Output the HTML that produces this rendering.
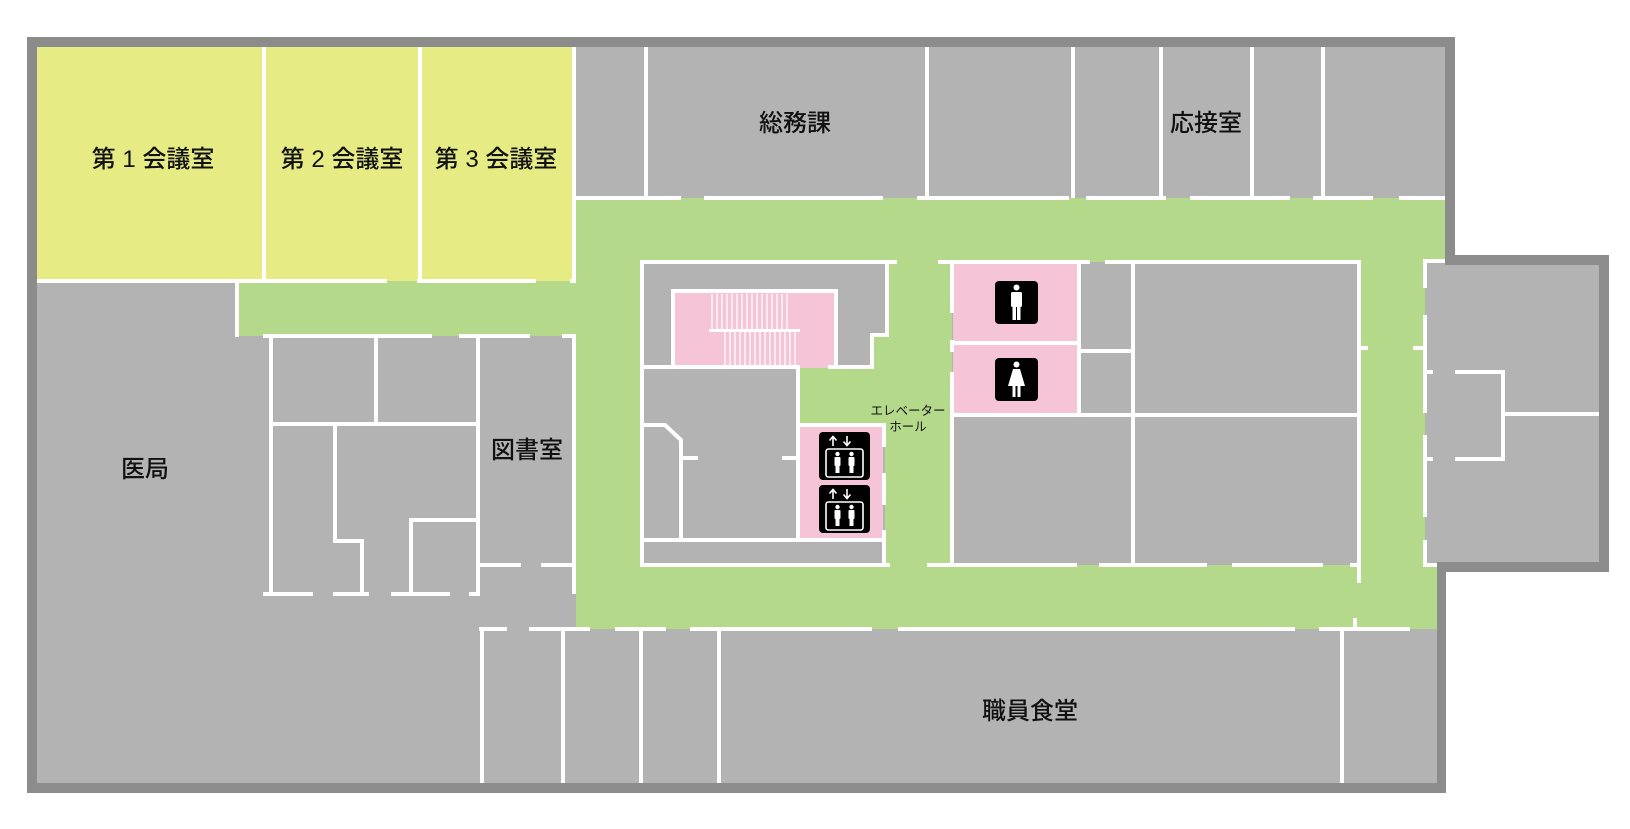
<!DOCTYPE html>
<html><head><meta charset="utf-8"><style>
html,body{margin:0;padding:0;background:#fff;}
svg{display:block;}
text{font-family:"Liberation Sans","Noto Sans CJK JP",sans-serif;fill:#111;}
</style></head><body>
<svg width="1630" height="829" viewBox="0 0 1630 829" xmlns="http://www.w3.org/2000/svg">
<!-- building outline -->
<polygon points="27,37 1455,37 1455,255 1609,255 1609,572 1446,572 1446,793 27,793" fill="#8c8c8c"/>
<polygon points="37,47 1445,47 1445,265 1599,265 1599,562 1437,562 1437,783 37,783" fill="#b3b3b3"/>
<!-- yellow rooms -->
<rect x="37" y="47" width="538" height="234" fill="#e6eb84"/>
<!-- green corridors -->
<g fill="#b5d98b">
<rect x="238" y="281" width="340" height="55"/>
<rect x="576" y="198" width="869" height="64"/>
<rect x="576" y="198" width="66" height="431"/>
<rect x="576" y="565" width="861" height="64"/>
<rect x="1359" y="198" width="66" height="431"/>
<rect x="1425" y="565" width="12" height="64"/>
<rect x="885" y="262" width="67" height="304"/>
<rect x="797" y="367" width="90" height="60"/>
<rect x="872" y="335" width="15" height="35"/>
</g>
<!-- pink -->
<g fill="#f5c4d6">
<rect x="675" y="293" width="159" height="73"/>
<rect x="798" y="362" width="32" height="6"/>
<rect x="800" y="425" width="83" height="114"/>
<rect x="953" y="263" width="124" height="79"/>
<rect x="953" y="345" width="124" height="69"/>
</g>
<!-- walls -->
<g stroke="#fff" stroke-width="4" fill="none" stroke-linecap="butt">
<line x1="264" y1="47" x2="264" y2="281"/>
<line x1="420" y1="47" x2="420" y2="281"/>
<line x1="574" y1="47" x2="574" y2="283"/>
<line x1="37" y1="281" x2="387" y2="281"/>
<line x1="417" y1="281" x2="536" y2="281"/>
<line x1="570" y1="281" x2="576" y2="281"/>
<line x1="237" y1="281" x2="237" y2="337"/>
<line x1="646" y1="47" x2="646" y2="198"/>
<line x1="927" y1="47" x2="927" y2="198"/>
<line x1="1073" y1="47" x2="1073" y2="198"/>
<line x1="1161" y1="47" x2="1161" y2="198"/>
<line x1="1252" y1="47" x2="1252" y2="198"/>
<line x1="1323" y1="47" x2="1323" y2="198"/>
<line x1="576" y1="198" x2="681" y2="198"/>
<line x1="704" y1="198" x2="883" y2="198"/>
<line x1="917" y1="198" x2="1069" y2="198"/>
<line x1="1086" y1="198" x2="1166" y2="198"/>
<line x1="1190" y1="198" x2="1290" y2="198"/>
<line x1="1313" y1="198" x2="1373" y2="198"/>
<line x1="1399" y1="198" x2="1445" y2="198"/>
<line x1="263" y1="336" x2="432" y2="336"/>
<line x1="459" y1="336" x2="530" y2="336"/>
<line x1="562" y1="336" x2="576" y2="336"/>
<line x1="271" y1="336" x2="271" y2="594"/>
<line x1="376" y1="336" x2="376" y2="425"/>
<line x1="271" y1="424" x2="478" y2="424"/>
<line x1="478" y1="336" x2="478" y2="594"/>
<line x1="335" y1="424" x2="335" y2="542"/>
<line x1="333" y1="541" x2="364" y2="541"/>
<line x1="362" y1="541" x2="362" y2="594"/>
<line x1="411" y1="519" x2="411" y2="594"/>
<line x1="409" y1="520" x2="478" y2="520"/>
<line x1="263" y1="594" x2="313" y2="594"/>
<line x1="333" y1="594" x2="369" y2="594"/>
<line x1="391" y1="594" x2="450" y2="594"/>
<line x1="469" y1="594" x2="480" y2="594"/>
<line x1="478" y1="565" x2="521" y2="565"/>
<line x1="541" y1="565" x2="574" y2="565"/>
<line x1="574" y1="336" x2="574" y2="594"/>
<polyline points="642,566 642,262 897,262"/>
<polyline points="887,262 887,335 872,335 872,368"/>
<polyline points="673,366 673,291 836,291 836,366"/>
<line x1="640" y1="367" x2="800" y2="367"/>
<line x1="828" y1="367" x2="874" y2="367"/>
<line x1="798" y1="367" x2="798" y2="540"/>
<line x1="796" y1="425" x2="886" y2="425"/>
<line x1="884" y1="425" x2="884" y2="447"/>
<line x1="884" y1="473" x2="884" y2="505"/>
<line x1="884" y1="530" x2="884" y2="566"/>
<polyline points="642,425 665,425 681,440 681,540"/>
<line x1="681" y1="458" x2="698" y2="458"/>
<line x1="782" y1="458" x2="798" y2="458"/>
<line x1="640" y1="540" x2="886" y2="540"/>
<line x1="640" y1="565" x2="890" y2="565"/>
<line x1="938" y1="262" x2="1090" y2="262"/>
<line x1="1105" y1="262" x2="1361" y2="262"/>
<line x1="952" y1="262" x2="952" y2="313"/>
<line x1="952" y1="340" x2="952" y2="352"/>
<line x1="952" y1="372" x2="952" y2="566"/>
<line x1="953" y1="343" x2="1079" y2="343"/>
<line x1="953" y1="415" x2="1359" y2="415"/>
<line x1="1079" y1="262" x2="1079" y2="415"/>
<line x1="1079" y1="351" x2="1133" y2="351"/>
<line x1="1133" y1="262" x2="1133" y2="566"/>
<line x1="1359" y1="262" x2="1359" y2="583"/>
<line x1="1359" y1="348" x2="1368" y2="348"/>
<line x1="927" y1="565" x2="1077" y2="565"/>
<line x1="1099" y1="565" x2="1207" y2="565"/>
<line x1="1232" y1="565" x2="1323" y2="565"/>
<line x1="1350" y1="565" x2="1361" y2="565"/>
<line x1="1423" y1="261" x2="1445" y2="261"/>
<line x1="1425" y1="260" x2="1425" y2="288"/>
<line x1="1425" y1="315" x2="1425" y2="413"/>
<line x1="1425" y1="435" x2="1425" y2="517"/>
<line x1="1425" y1="540" x2="1425" y2="567"/>
<line x1="1423" y1="565" x2="1437" y2="565"/>
<line x1="1413" y1="348" x2="1425" y2="348"/>
<line x1="1425" y1="372" x2="1433" y2="372"/>
<line x1="1455" y1="372" x2="1505" y2="372"/>
<line x1="1503" y1="372" x2="1503" y2="460"/>
<line x1="1425" y1="459" x2="1433" y2="459"/>
<line x1="1455" y1="459" x2="1505" y2="459"/>
<line x1="1503" y1="414" x2="1599" y2="414"/>
<line x1="479" y1="629" x2="507" y2="629"/>
<line x1="529" y1="629" x2="590" y2="629"/>
<line x1="615" y1="629" x2="666" y2="629"/>
<line x1="690" y1="629" x2="872" y2="629"/>
<line x1="898" y1="629" x2="1295" y2="629"/>
<line x1="1319" y1="629" x2="1410" y2="629"/>
<line x1="1355" y1="618" x2="1355" y2="629"/>
<line x1="482" y1="629" x2="482" y2="783"/>
<line x1="563" y1="629" x2="563" y2="783"/>
<line x1="641" y1="629" x2="641" y2="783"/>
<line x1="719" y1="629" x2="719" y2="783"/>
<line x1="1342" y1="629" x2="1342" y2="783"/>
</g>
<!-- stair treads -->
<g stroke="#fff" stroke-width="1.3">
<line x1="709" y1="330.5" x2="800" y2="330.5" stroke-width="3"/>
<path d="M712 294V330M717 294V330M722 294V330M727 294V330M732 294V330M737 294V330M742 294V330M747 294V330M752 294V330M757 294V330M762 294V330M767 294V330M772 294V330M777 294V330M782 294V330M787 294V330"/>
<path d="M725 332V365M730 332V365M735 332V365M740 332V365M745 332V365M750 332V365M755 332V365M760 332V365M765 332V365M770 332V365M775 332V365M780 332V365M785 332V365M790 332V365M795 332V365"/>
</g>
<!-- restroom icons -->
<rect x="995" y="281" width="43" height="43" rx="4" fill="#000"/>
<g fill="#fff">
<circle cx="1016.5" cy="287.5" r="3"/>
<rect x="1011" y="292" width="11" height="15" rx="1.5"/>
<rect x="1012.5" y="305" width="3.5" height="15"/>
<rect x="1017" y="305" width="3.5" height="15"/>
</g>
<rect x="995" y="358" width="43" height="43" rx="4" fill="#000"/>
<g fill="#fff">
<circle cx="1016.5" cy="364.5" r="3"/>
<polygon points="1013,369 1020,369 1025,386 1008,386"/>
<rect x="1012.5" y="385" width="3" height="12"/>
<rect x="1017.5" y="385" width="3" height="12"/>
</g>
<!-- elevator icons -->
<g id="ev1">
<rect x="819" y="432" width="51" height="48" rx="4" fill="#000"/>
<g stroke="#fff" stroke-width="1.6" fill="none">
<path d="M833 446V437M829.5 440.5L833 436.5L836.5 440.5"/>
<path d="M847 436V445M843.5 441.5L847 445.5L850.5 441.5"/>
<rect x="826" y="449" width="37" height="28" rx="2.5"/>
</g>
<g fill="#fff">
<circle cx="837.5" cy="454" r="2.2"/><rect x="834.5" y="457" width="6" height="9" rx="1"/><rect x="835.5" y="465" width="4" height="8"/>
<circle cx="851.5" cy="454" r="2.2"/><rect x="848.5" y="457" width="6" height="9" rx="1"/><rect x="849.5" y="465" width="4" height="8"/>
</g>
</g>
<use href="#ev1" transform="translate(0,53)"/>
<!-- labels -->
<g font-size="24" font-weight="500" text-anchor="middle">
<text x="153" y="167">第 1 会議室</text>
<text x="342" y="167">第 2 会議室</text>
<text x="496" y="167">第 3 会議室</text>
<text x="795" y="131">総務課</text>
<text x="1206" y="131">応接室</text>
<text x="145" y="477">医局</text>
<text x="527" y="458">図書室</text>
<text x="1030" y="719">職員食堂</text>
</g>
<g font-size="12.5" text-anchor="middle">
<text x="908" y="415">エレベーター</text>
<text x="908" y="431">ホール</text>
</g>
</svg>
</body></html>
